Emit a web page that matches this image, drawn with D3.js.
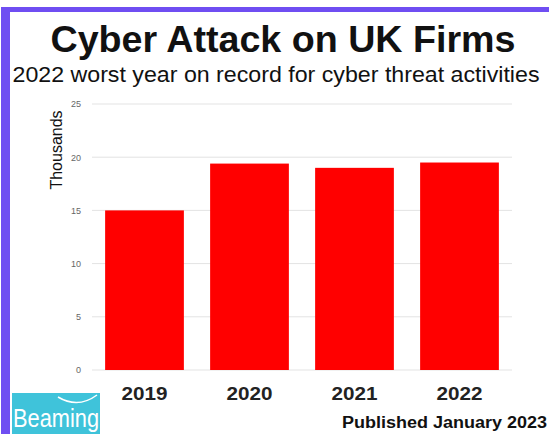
<!DOCTYPE html>
<html><head><meta charset="utf-8">
<script src="https://cdn.jsdelivr.net/npm/d3@7"></script>
<style>body{margin:0;background:#fff}svg{display:block}</style>
</head><body>
<script>
const categories = ["2019", "2020", "2021", "2022"];
const values = [15.0, 19.4, 19.0, 19.5];
const yTicks = [0, 5, 10, 15, 20, 25];
const title = "Cyber Attack on UK Firms";
const subtitle = "2022 worst year on record for cyber threat activities";
const yLabel = "Thousands";
const footer = "Published January 2023";
const logoText = "Beaming";

const W = 549, H = 434;
const FONT = "Liberation Sans, Arial, sans-serif";
const svg = d3.select("body").append("svg").attr("width", W).attr("height", H);
svg.append("rect").attr("width", W).attr("height", H).attr("fill", "#fff");
// purple frame
svg.append("rect").attr("x", 2).attr("y", 7).attr("width", W - 2).attr("height", 5).attr("fill", "#6f4ef2");
svg.append("rect").attr("x", 1).attr("y", 7).attr("width", 9).attr("height", H - 7).attr("fill", "#6f4ef2");

const x = d3.scaleBand().domain(categories).range([92, 512]).paddingInner(0.25).paddingOuter(0.125);
const y = d3.scaleLinear().domain([0, 25]).range([370, 104]);

// grid
svg.append("g").selectAll("line").data(yTicks).join("line")
  .attr("x1", 92).attr("x2", 512)
  .attr("y1", d => y(d)).attr("y2", d => y(d))
  .attr("stroke", "#e3e3e3").attr("stroke-width", 1);

// y axis labels
const yAxis = d3.axisLeft(y).tickValues(yTicks).tickSize(0).tickPadding(0);
const ya = svg.append("g").attr("transform", "translate(81,0)").call(yAxis);
ya.select(".domain").remove();
ya.selectAll("text").attr("font-family", FONT).attr("font-size", 9).attr("fill", "#666");

// bars
svg.append("g").selectAll("rect").data(values).join("rect")
  .attr("x", (d, i) => x(categories[i]))
  .attr("width", x.bandwidth())
  .attr("y", d => y(d))
  .attr("height", d => y(0) - y(d))
  .attr("fill", "#ff0000");

// x axis
const xAxis = d3.axisBottom(x).tickSize(0).tickPadding(0);
const xa = svg.append("g").attr("transform", "translate(0,400)").call(xAxis);
xa.select(".domain").remove();
xa.selectAll("text").attr("font-family", FONT).attr("font-size", 19).attr("font-weight", "bold")
  .attr("fill", "#222").attr("dy", 0).attr("y", 0)
  .attr("textLength", 46).attr("lengthAdjust", "spacingAndGlyphs");

// titles
svg.append("text").attr("x", 283).attr("y", 52).attr("text-anchor", "middle")
  .attr("font-family", FONT).attr("font-weight", "bold").attr("font-size", 37).attr("fill", "#111")
  .attr("textLength", 465).attr("lengthAdjust", "spacingAndGlyphs").text(title);
svg.append("text").attr("x", 276).attr("y", 82).attr("text-anchor", "middle")
  .attr("font-family", FONT).attr("font-size", 22).attr("fill", "#111")
  .attr("textLength", 527).attr("lengthAdjust", "spacingAndGlyphs").text(subtitle);

// y label
svg.append("text").attr("transform", "translate(62,150) rotate(-90)").attr("text-anchor", "middle")
  .attr("font-family", FONT).attr("font-size", 16).attr("fill", "#111").text(yLabel);

// footer
svg.append("text").attr("x", 547).attr("y", 428).attr("text-anchor", "end")
  .attr("font-family", FONT).attr("font-weight", "bold").attr("font-size", 16).attr("fill", "#111")
  .attr("textLength", 205).attr("lengthAdjust", "spacingAndGlyphs").text(footer);

// logo
const lg = svg.append("g");
lg.append("rect").attr("x", 12).attr("y", 393).attr("width", 88).attr("height", 41).attr("fill", "#3fc3da");
lg.append("path").attr("d", "M 58 397 Q 78 409 97 395").attr("fill", "none").attr("stroke", "#fff").attr("stroke-width", 1.5);
lg.append("text").attr("x", 13).attr("y", 427).attr("font-family", FONT).attr("font-size", 26).attr("fill", "#fff").attr("textLength", 86).attr("lengthAdjust", "spacingAndGlyphs").text(logoText);
</script>
</body></html>
